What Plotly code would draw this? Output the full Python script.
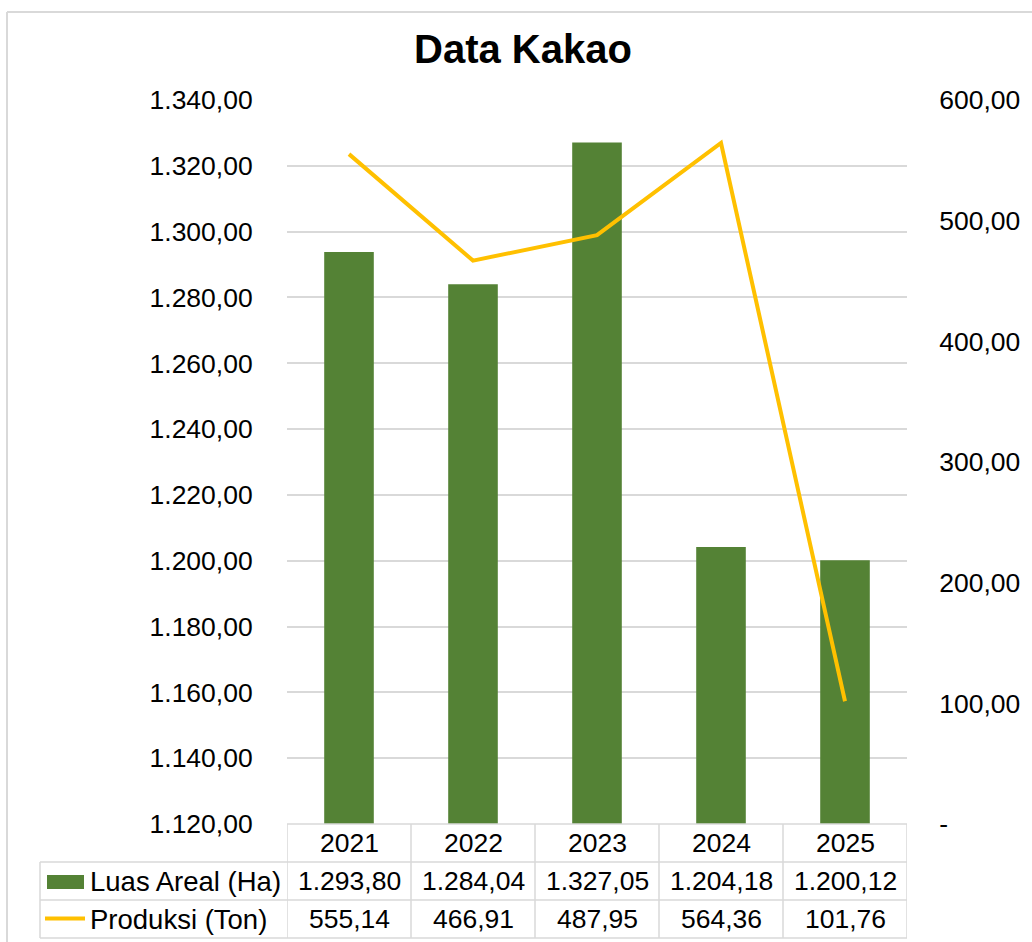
import plotly.graph_objects as go

# ---- data ----
years = ["2021", "2022", "2023", "2024", "2025"]
luas_areal = [1293.80, 1284.04, 1327.05, 1204.18, 1200.12]
produksi = [555.14, 466.91, 487.95, 564.36, 101.76]
left_ticks = [1120, 1140, 1160, 1180, 1200, 1220, 1240, 1260, 1280, 1300, 1320, 1340]
right_ticks = [0, 100, 200, 300, 400, 500, 600]
series_names = ["Luas Areal (Ha)", "Produksi (Ton)"]
title_text = "Data Kakao"

W, H = 1032, 942
FONT = "Liberation Sans, Arial, sans-serif"
GREEN = "#548235"
YELLOW = "#FFC000"
GRID = "#d9d9d9"
TXT = "#000000"
FS = 26.5
FS_LBL = 27.5


def idn(v):
    s = f"{v:,.2f}"
    return s.replace(",", "X").replace(".", ",").replace("X", ".")


def px(x):
    return x / W


def py(y):
    return 1 - y / H


PL, PR, PT, PB = 287, 907, 100, 824

fig = go.Figure()
fig.add_trace(go.Bar(x=years, y=luas_areal, name=series_names[0],
                     marker=dict(color=GREEN, line=dict(width=0)), width=0.4,
                     yaxis="y"))
fig.add_trace(go.Scatter(x=years, y=produksi, name=series_names[1], mode="lines",
                         line=dict(color=YELLOW, width=4), yaxis="y2"))

shapes = []
# outer chart border
shapes.append(dict(type="line", xref="paper", yref="paper", x0=px(7), x1=px(W + 5),
                   y0=py(12), y1=py(12), line=dict(color=GRID, width=2)))
shapes.append(dict(type="line", xref="paper", yref="paper", x0=px(7), x1=px(7),
                   y0=py(12), y1=py(H + 5), line=dict(color=GRID, width=2)))

# data table grid
row_y = [824, 862, 900, 938]
shapes.append(dict(type="line", xref="paper", yref="paper", x0=px(PL), x1=px(PR),
                   y0=py(row_y[0]), y1=py(row_y[0]), line=dict(color=GRID, width=1.5)))
for yy in row_y[1:]:
    shapes.append(dict(type="line", xref="paper", yref="paper", x0=px(40), x1=px(PR),
                       y0=py(yy), y1=py(yy), line=dict(color=GRID, width=1.5)))
shapes.append(dict(type="line", xref="paper", yref="paper", x0=px(40), x1=px(40),
                   y0=py(row_y[1]), y1=py(row_y[3]), line=dict(color=GRID, width=1.5)))
for i in range(len(years) + 1):
    shapes.append(dict(type="line", xref="x", yref="paper", x0=i - 0.5, x1=i - 0.5,
                       y0=py(row_y[0]), y1=py(row_y[3]), line=dict(color=GRID, width=1.5)))
# legend keys
shapes.append(dict(type="rect", xref="paper", yref="paper", x0=px(47), x1=px(84),
                   y0=py(889), y1=py(875), fillcolor=GREEN, line=dict(width=0)))
shapes.append(dict(type="line", xref="paper", yref="paper", x0=px(45), x1=px(85),
                   y0=py(918.5), y1=py(918.5), line=dict(color=YELLOW, width=4)))

ann = []
ann.append(dict(text=f"<b>{title_text}</b>", xref="paper", yref="paper", x=px(523), y=py(49),
                xanchor="center", yanchor="middle", showarrow=False,
                font=dict(family=FONT, size=40, color=TXT)))
row_mid = [(row_y[k] + row_y[k + 1]) / 2 for k in range(3)]
for i, yr in enumerate(years):
    ann.append(dict(text=yr, xref="x", yref="paper", x=i, y=py(row_mid[0]),
                    xanchor="center", yanchor="middle", showarrow=False,
                    font=dict(family=FONT, size=FS, color=TXT)))
    ann.append(dict(text=idn(luas_areal[i]), xref="x", yref="paper", x=i, y=py(row_mid[1]),
                    xanchor="center", yanchor="middle", showarrow=False,
                    font=dict(family=FONT, size=FS, color=TXT)))
    ann.append(dict(text=idn(produksi[i]), xref="x", yref="paper", x=i, y=py(row_mid[2]),
                    xanchor="center", yanchor="middle", showarrow=False,
                    font=dict(family=FONT, size=FS, color=TXT)))
for k, nm in enumerate(series_names):
    ann.append(dict(text=nm, xref="paper", yref="paper", x=px(88), y=py(row_mid[k + 1]),
                    xanchor="left", yanchor="middle", showarrow=False,
                    font=dict(family=FONT, size=FS_LBL, color=TXT)))

fig.update_layout(
    template="none",
    width=W, height=H,
    margin=dict(l=0, r=0, t=0, b=0, pad=0),
    paper_bgcolor="white", plot_bgcolor="white",
    showlegend=False,
    separators=",.",
    xaxis=dict(domain=[px(PL), px(PR)], type="category", showticklabels=False,
               showgrid=False, zeroline=False, showline=False, ticks="",
               automargin=False, range=[-0.5, len(years) - 0.5]),
    yaxis=dict(domain=[py(PB), py(PT)], range=[left_ticks[0], left_ticks[-1]],
               tickvals=left_ticks, tickformat=",.2f", automargin=False,
               showgrid=True, gridcolor=GRID, gridwidth=1.5, zeroline=False,
               showline=False, ticks="outside", ticklen=28, tickcolor="rgba(0,0,0,0)",
               tickfont=dict(family=FONT, size=FS, color=TXT)),
    yaxis2=dict(overlaying="y", side="right", range=[right_ticks[0], right_ticks[-1]],
                tickvals=right_ticks, automargin=False,
                ticktext=["-" if v == 0 else idn(v) for v in right_ticks],
                showgrid=False, zeroline=False, showline=False,
                ticks="outside", ticklen=26, tickcolor="rgba(0,0,0,0)",
                tickfont=dict(family=FONT, size=FS, color=TXT)),
    shapes=shapes, annotations=ann,
)

fig.write_html("out.html", config={"displayModeBar": False},
               post_script="document.body.style.margin='0';document.body.style.overflow='hidden';")
